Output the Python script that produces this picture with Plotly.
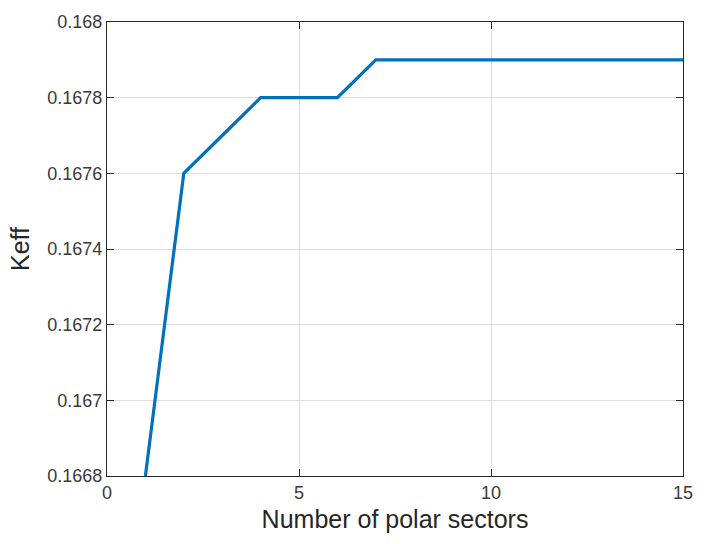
import plotly.graph_objects as go

sectors = [1, 2, 3, 4, 5, 6, 7, 8, 9, 10, 11, 12, 13, 14, 15]
keff = [0.1668, 0.1676, 0.1677, 0.1678, 0.1678, 0.1678, 0.1679, 0.1679,
        0.1679, 0.1679, 0.1679, 0.1679, 0.1679, 0.1679, 0.1679]

x_ticks = [0, 5, 10, 15]
y_ticks = [0.1668, 0.1670, 0.1672, 0.1674, 0.1676, 0.1678, 0.1680]
y_tick_labels = ["0.1668", "0.167", "0.1672", "0.1674", "0.1676", "0.1678", "0.168"]

fig = go.Figure()
fig.add_trace(go.Scatter(x=sectors, y=keff, mode="lines",
                         line=dict(color="#0072BD", width=3.2),
                         cliponaxis=True, showlegend=False))

axis_common = dict(showline=True, linecolor="#262626", linewidth=1.3,
                   mirror="ticks", ticks="inside", ticklen=7, tickcolor="#262626",
                   showgrid=True, gridcolor="#dedede", gridwidth=1, zeroline=False,
                   tickfont=dict(family="Liberation Sans, Arial", size=18, color="#3a3a3a"))

fig.update_layout(
    width=705, height=544,
    margin=dict(l=107, r=13, t=16, b=68),
    paper_bgcolor="white", plot_bgcolor="white",
    xaxis=dict(range=[0, 15], tickvals=x_ticks, ticktext=[str(v) for v in x_ticks],
               title=dict(text="Number of polar sectors", standoff=8,
                          font=dict(family="Liberation Sans, Arial", size=25, color="#262626")),
               **axis_common),
    yaxis=dict(range=[0.1668, 0.1680], tickvals=y_ticks, ticktext=y_tick_labels,
               title=dict(text="Keff", standoff=10,
                          font=dict(family="Liberation Sans, Arial", size=25, color="#262626")),
               **axis_common),
)

fig.write_html("out.html")
